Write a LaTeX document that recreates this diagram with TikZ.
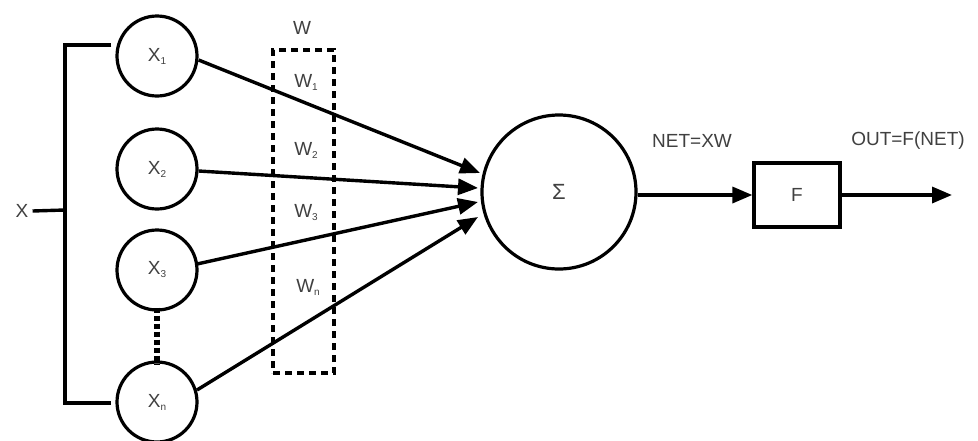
\documentclass[tikz,border=0pt]{standalone}
\usepackage{fontspec}
\setmainfont{Liberation Sans}
\usetikzlibrary{arrows.meta}
\newcommand{\sbs}[1]{\raisebox{-3pt}{\fontsize{10}{10}\selectfont #1}}
\begin{document}
\begin{tikzpicture}[x=1pt,y=-1pt,
  wire/.style={line width=3.4pt},
  conn/.style={line width=3.4pt,-{Triangle[length=20pt,width=16pt]}},
  inp/.style={circle,draw,line width=3.2pt,minimum size=80pt,inner sep=0pt,font=\fontsize{19}{20}\selectfont,text=black!75},
  lbl/.style={font=\fontsize{19}{20}\selectfont,text=black!75,inner sep=0pt}]
\useasboundingbox (0,0) rectangle (978,440);
\node[lbl] (X) at (22,211) {X};
\coordinate (j) at (65,210);
\coordinate (jt) at (65,45);
\coordinate (jb) at (65,403);
\node[inp] (x1) at (157,56) {X\sbs{1}};
\node[inp] (x2) at (157,169) {X\sbs{2}};
\node[inp] (x3) at (157,270) {X\sbs{3}};
\node[inp] (xn) at (157,402) {X\sbs{n}};
\draw[wire] (X.east) ++(4,0) -- (j);
\draw[wire] (x1.west |- jt) ++(-4,0) -- (jt) -- (jb) -- ([xshift=-4pt]xn.west |- jb);
\draw[line width=6pt,dash pattern=on 5pt off 3pt] ([yshift=4pt]x3.south) -- ([yshift=-4pt]xn.north);
\node[draw,line width=3.4pt,dash pattern=on 7pt off 5pt,minimum width=61pt,minimum height=323pt,inner sep=0pt] (W) at (303.5,211.5) {};
\node[lbl] (Wl) at (302,28) {W};
\node[lbl] (w1) at (306,82) {W\sbs{1}};
\node[lbl] (w2) at (306,150) {W\sbs{2}};
\node[lbl] (w3) at (306,213) {W\sbs{3}};
\node[lbl] (wn) at (308,287) {W\sbs{n}};
\node[circle,draw,line width=3.2pt,minimum size=154pt,inner sep=0pt,font=\fontsize{22}{24}\selectfont,text=black!75] (S) at (559,192) {Σ};
\coordinate (t1) at (480,173);
\coordinate (t2) at (478,188);
\coordinate (t3) at (478,202);
\coordinate (t4) at (478,217);
\draw[conn] (x1.east) ++(0,4) -- (t1);
\draw[conn] (x2.east) ++(0,2) -- (t2);
\draw[conn] (x3) ++(40,-6) -- (t3);
\draw[conn] (xn) ++(40,-12) -- (t4);
\node[draw,line width=3.2pt,minimum width=86pt,minimum height=64pt,inner sep=0pt,font=\fontsize{19}{20}\selectfont,text=black!75] (F) at (797,195) {F};
\draw[conn] (S.east |- F.west) -- (F.west);
\coordinate (out) at (952,195);
\draw[conn] (F.east) -- (out);
\node[lbl] (net) at (692,141) {NET=XW};
\node[lbl] (outl) at (908,141) {OUT=F(NET)};
\end{tikzpicture}
\end{document}
